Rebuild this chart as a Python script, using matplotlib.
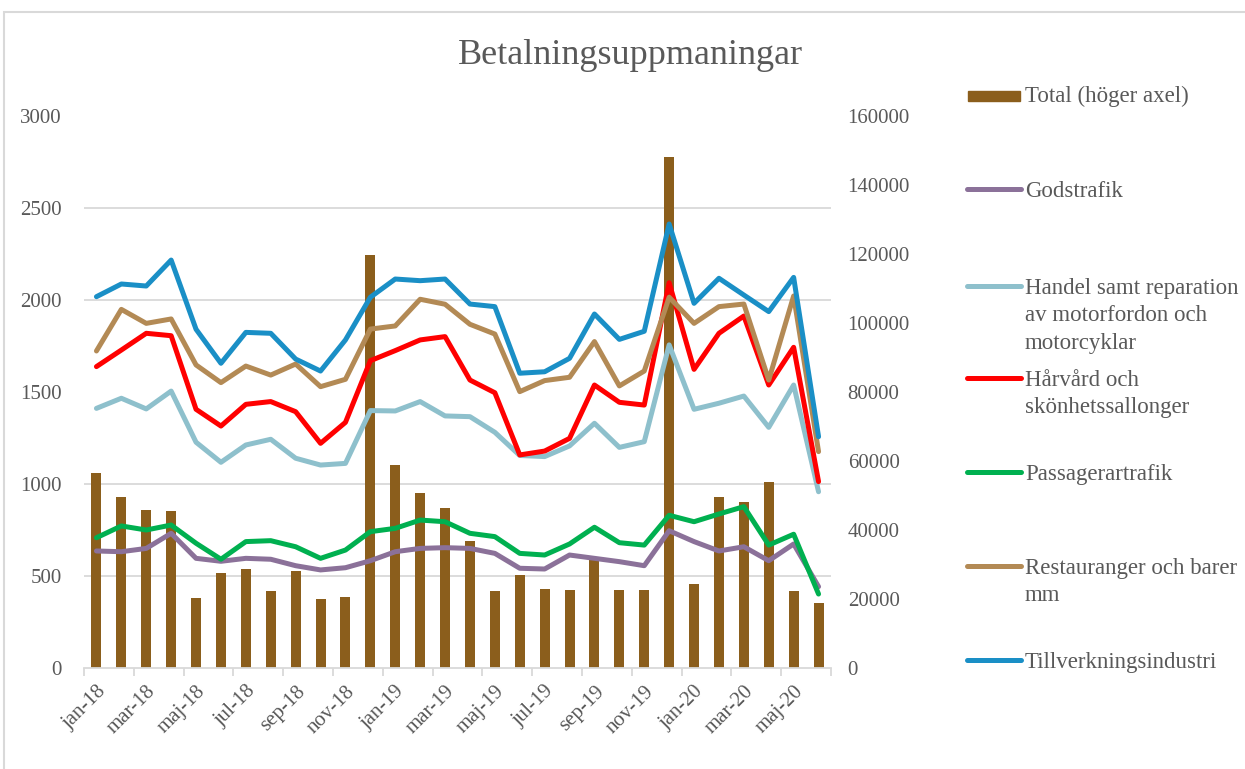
import matplotlib
matplotlib.use("Agg")
import matplotlib.pyplot as plt
import numpy as np
from matplotlib.lines import Line2D
from matplotlib.patches import Rectangle

months = ["jan-18","feb-18","mar-18","apr-18","maj-18","jun-18","jul-18","aug-18","sep-18","okt-18","nov-18","dec-18",
          "jan-19","feb-19","mar-19","apr-19","maj-19","jun-19","jul-19","aug-19","sep-19","okt-19","nov-19","dec-19",
          "jan-20","feb-20","mar-20","apr-20","maj-20","jun-20"]

total = [56400, 49500, 45800, 45400, 20400, 27500, 28700, 22300, 28000, 20100, 20600, 119700,
         58800, 50700, 46300, 36800, 22400, 26900, 22900, 22600, 31400, 22500, 22600, 148100,
         24400, 49700, 48200, 54000, 22200, 18800]

godstrafik = [636, 632, 650, 732, 596, 580, 596, 591, 556, 533, 545, 583,
              632, 650, 654, 650, 623, 542, 538, 614, 596, 578, 556, 746,
              687, 636, 659, 583, 674, 442]

handel = [1411, 1466, 1408, 1505, 1227, 1118, 1212, 1243, 1140, 1103, 1112, 1399,
          1397, 1448, 1370, 1366, 1281, 1155, 1149, 1207, 1330, 1199, 1230, 1756,
          1406, 1439, 1478, 1308, 1538, 958]

harvard = [1638, 1728, 1819, 1806, 1406, 1315, 1433, 1448, 1393, 1221, 1335, 1670,
           1725, 1783, 1801, 1565, 1496, 1158, 1179, 1248, 1538, 1444, 1429, 2094,
           1623, 1819, 1913, 1538, 1743, 1013]

passagerar = [708, 772, 750, 777, 678, 591, 687, 692, 659, 596, 641, 741,
              759, 804, 795, 732, 714, 623, 614, 674, 765, 681, 668, 830,
              795, 837, 877, 668, 727, 402]

restaurang = [1723, 1949, 1873, 1897, 1647, 1551, 1641, 1592, 1652, 1529, 1569, 1842,
              1859, 2004, 1977, 1868, 1815, 1502, 1562, 1580, 1774, 1533, 1614, 2015,
              1873, 1964, 1978, 1565, 2022, 1176]

tillverkning = [2018, 2087, 2076, 2217, 1841, 1656, 1824, 1819, 1679, 1614, 1783, 2015,
                2114, 2105, 2114, 1978, 1964, 1602, 1610, 1683, 1924, 1786, 1830, 2413,
                1982, 2118, 2027, 1937, 2123, 1257]

left_ticks = [0, 500, 1000, 1500, 2000, 2500, 3000]
right_ticks = [0, 20000, 40000, 60000, 80000, 100000, 120000, 140000, 160000]

series = [
    ("Godstrafik", godstrafik, "#8B7199"),
    ("Handel samt reparation\nav motorfordon och\nmotorcyklar", handel, "#8EC0CC"),
    ("Hårvård och\nskönhetssallonger", harvard, "#FF0000"),
    ("Passagerartrafik", passagerar, "#00B050"),
    ("Restauranger och barer\nmm", restaurang, "#B38A55"),
    ("Tillverkningsindustri", tillverkning, "#1A8FC6"),
]
bar_color = "#8B5E1C"
text_color = "#595959"
grid_color = "#D9D9D9"

plt.rcParams['font.family'] = ['Liberation Serif', 'DejaVu Serif']

W, H = 1245, 769
fig = plt.figure(figsize=(W/100, H/100), dpi=100)

# chart border
fig.add_artist(Rectangle((4/W, -0.1), 1.2, 1.1 - 12/H, transform=fig.transFigure,
                         fill=False, edgecolor="#D9D9D9", lw=1.5))

ax = fig.add_axes([84/W, 1 - 668/H, (831-84)/W, (668-116)/H])
ax2 = ax.twinx()
x = np.arange(len(months))

ax.bar(x, total, width=0.4, color=bar_color, zorder=2)
ax.set_ylim(0, 160000)
ax.set_xlim(-0.5, len(months) - 0.5)
ax.set_yticks(right_ticks)
ax.set_yticklabels([str(v) for v in right_ticks])
ax.set_yticks(np.linspace(0, 160000, len(left_ticks)), minor=True)
ax.tick_params(axis='y', which='minor', length=0, left=False, right=False,
               labelleft=False, labelright=False)
ax.tick_params(axis='y', which='major', length=0, left=False, right=False,
               labelleft=False, labelright=True, pad=12, labelsize=15, labelcolor=text_color)
ax.grid(True, axis='y', which='minor', color=grid_color, lw=1.3, zorder=0)
ax.set_axisbelow(True)
for s in ["top", "left", "right"]:
    ax.spines[s].set_visible(False)
ax.spines["bottom"].set_color(grid_color)
ax.spines["bottom"].set_linewidth(1.3)

# x ticks: marks on boundaries every 2 months, labels every 2 months
ax.set_xticks(np.arange(-0.5, len(months), 2))
ax.set_xticklabels([])
ax.tick_params(axis='x', which='major', length=6, color=grid_color, width=1.3)
ax.set_xticks(np.arange(0, len(months), 2), minor=True)
ax.set_xticklabels(months[::2], minor=True, rotation=45, ha='right', rotation_mode='anchor')
ax.tick_params(axis='x', which='minor', length=0, pad=10, labelsize=15, labelcolor=text_color)

for label, vals, col in series:
    ax2.plot(x, vals, color=col, lw=3.6, solid_capstyle='round', solid_joinstyle='round', zorder=3)
ax2.set_ylim(0, 3000)
ax2.set_yticks(left_ticks)
ax2.set_yticklabels([str(v) for v in left_ticks])
ax2.tick_params(axis='y', length=0, left=False, right=False, labelleft=True, labelright=False,
                pad=16, labelsize=15, labelcolor=text_color)
for s in ax2.spines.values():
    s.set_visible(False)

fig.text(631/W, 1 - 55/H, "Betalningsuppmaningar", ha='center', va='center',
         fontsize=26, color=text_color)

# legend (manual)
lx0, lx1, tx = 968/W, 1020/W, 1025/W
fig.add_artist(Rectangle((lx0, 1 - 101/H), (lx1 - lx0), 10/H, transform=fig.transFigure,
                         color=bar_color))
fig.text(tx, 1 - 96/H, "Total (höger axel)", ha='left', va='center', fontsize=16.5, color=text_color)
leg_y = [189, 286, 378, 472, 566, 660]
for (label, vals, col), yy in zip(series, leg_y):
    fig.add_artist(Line2D([967/W, 1021/W], [1 - yy/H, 1 - yy/H], transform=fig.transFigure,
                          color=col, lw=3.6, solid_capstyle='round'))
    fig.text(tx, 1 - (yy - 8)/H, label, ha='left', va='top', fontsize=16.5, color=text_color,
             linespacing=1.4)

fig.savefig("out.png", dpi=100)
